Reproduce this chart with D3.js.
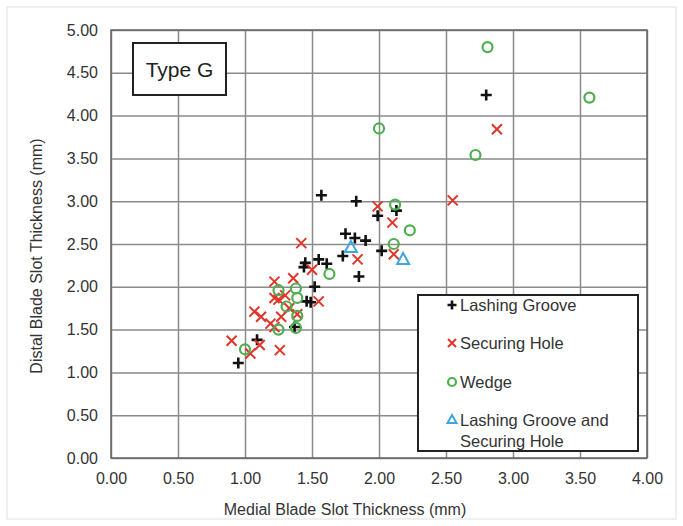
<!DOCTYPE html>
<html>
<head>
<meta charset="utf-8">
<script src="https://d3js.org/d3.v7.min.js"></script>
<style>
  body { margin: 0; background: #fff; }
  svg { display: block; font-family: "Liberation Sans", Arial, sans-serif; }
</style>
</head>
<body>
<svg id="chart" width="683" height="526"></svg>
<script>
// data: [medial, distal] in mm
var lashingGroove = [
  [0.95, 1.11], [1.09, 1.38], [1.37, 1.53], [1.46, 1.83], [1.49, 1.82],
  [1.52, 2.00], [1.44, 2.23], [1.45, 2.28], [1.55, 2.32], [1.61, 2.27],
  [1.73, 2.36], [1.75, 2.62], [1.82, 2.57], [1.90, 2.54], [2.02, 2.42],
  [1.85, 2.12], [1.57, 3.07], [1.83, 3.00], [1.99, 2.83], [2.13, 2.89],
  [2.80, 4.24]
]
var securingHole = [
  [0.90, 1.37], [1.04, 1.22], [1.11, 1.32], [1.26, 1.26], [1.07, 1.71],
  [1.12, 1.65], [1.19, 1.57], [1.22, 1.53], [1.22, 1.87], [1.22, 2.06],
  [1.25, 1.85], [1.27, 1.65], [1.30, 1.90], [1.33, 1.75], [1.36, 2.10],
  [1.39, 1.68], [1.55, 1.83], [1.50, 2.20], [1.42, 2.51], [1.84, 2.32],
  [1.99, 2.94], [2.10, 2.75], [2.11, 2.38], [2.55, 3.01], [2.88, 3.84]
]
var wedge = [
  [1.00, 1.27], [1.25, 1.50], [1.38, 1.52], [1.39, 1.66], [1.31, 1.77],
  [1.39, 1.87], [1.25, 1.96], [1.38, 1.98], [1.63, 2.15], [2.11, 2.50],
  [2.23, 2.66], [2.12, 2.96], [2.00, 3.85], [2.72, 3.54], [2.81, 4.80],
  [3.57, 4.21]
]
var bothTypes = [
  [1.79, 2.46], [2.18, 2.32]
]
var xTicks = [0, 0.5, 1, 1.5, 2, 2.5, 3, 3.5, 4]
var yTicks = [0, 0.5, 1, 1.5, 2, 2.5, 3, 3.5, 4, 4.5, 5]

var series = [
  { name: 'Lashing Groove', values: lashingGroove, shape: 'plus', color: '#111' },
  { name: 'Securing Hole', values: securingHole, shape: 'cross', color: '#e3342a' },
  { name: 'Wedge', values: wedge, shape: 'circle', color: '#4fae4f' },
  { name: 'Lashing Groove and|Securing Hole', values: bothTypes, shape: 'triangle', color: '#3ea6df' }
]

var svg = d3.select('#chart')
var plotLeft = 111, plotRight = 647, plotTop = 30, plotBottom = 458
var font = '"Liberation Sans", Arial, sans-serif'

var x = d3.scaleLinear().domain([0, 4]).range([plotLeft, plotRight])
var y = d3.scaleLinear().domain([0, 5]).range([plotBottom, plotTop])

// faint outer frame
svg.append('rect')
  .attr('x', 7).attr('y', 7).attr('width', 669).attr('height', 512)
  .attr('fill', 'none').attr('stroke', '#e2e2e2').attr('stroke-width', 1)

// grid
svg.append('g')
  .attr('transform', 'translate(0,' + plotBottom + ')')
  .call(d3.axisBottom(x).tickValues(xTicks).tickSize(-(plotBottom - plotTop)).tickFormat(d3.format('.2f')))
  .call(g => g.select('.domain').remove())
  .call(g => g.selectAll('line').attr('stroke', '#8a8a8a').attr('stroke-width', 1.5))
  .call(g => g.selectAll('text').attr('y', 12).attr('dy', '0.9em').attr('font-size', 16).attr('fill', '#333')
    .attr('font-family', font))

svg.append('g')
  .attr('transform', 'translate(' + plotLeft + ',0)')
  .call(d3.axisLeft(y).tickValues(yTicks).tickSize(-(plotRight - plotLeft)).tickFormat(d3.format('.2f')))
  .call(g => g.select('.domain').remove())
  .call(g => g.selectAll('line').attr('stroke', '#8a8a8a').attr('stroke-width', 1.5))
  .call(g => g.selectAll('text').attr('x', -13).attr('font-size', 16).attr('fill', '#333')
    .attr('font-family', font))

svg.append('rect')
  .attr('x', plotLeft).attr('y', plotTop).attr('width', plotRight - plotLeft).attr('height', plotBottom - plotTop)
  .attr('fill', 'none').attr('stroke', '#666').attr('stroke-width', 1.5)

// axis titles
svg.append('text')
  .attr('x', 345).attr('y', 515)
  .attr('text-anchor', 'middle').attr('font-size', 16).attr('fill', '#333')
  .text('Medial Blade Slot Thickness (mm)')

svg.append('text')
  .attr('transform', 'translate(42,256) rotate(-90)')
  .attr('text-anchor', 'middle').attr('font-size', 16).attr('fill', '#333')
  .text('Distal Blade Slot Thickness (mm)')

function drawMarker(g, shape, color, s) {
  if (shape == 'plus') {
    g.append('path').attr('d', 'M' + (-s) + ',0H' + s + 'M0,' + (-s) + 'V' + s)
      .attr('stroke', color).attr('stroke-width', 2.6).attr('fill', 'none')
  } else if (shape == 'cross') {
    g.append('path').attr('d', 'M' + (-s) + ',' + (-s) + 'L' + s + ',' + s + 'M' + (-s) + ',' + s + 'L' + s + ',' + (-s))
      .attr('stroke', color).attr('stroke-width', 2).attr('fill', 'none')
  } else if (shape == 'circle') {
    g.append('circle').attr('r', s).attr('stroke', color).attr('stroke-width', 2.2).attr('fill', 'none')
  } else if (shape == 'triangle') {
    g.append('path').attr('d', 'M0,' + (-s - 1) + 'L' + (s + 0.5) + ',' + (s - 1) + 'L' + (-s - 0.5) + ',' + (s - 1) + 'Z')
      .attr('stroke', color).attr('stroke-width', 2).attr('fill', 'none')
  }
}

var sizes = { plus: 5.5, cross: 5, circle: 5, triangle: 5.5 }

series.forEach(function(s) {
  svg.append('g').selectAll('g')
    .data(s.values)
    .join('g')
    .attr('transform', d => 'translate(' + x(d[0]) + ',' + y(d[1]) + ')')
    .each(function() { drawMarker(d3.select(this), s.shape, s.color, sizes[s.shape]) })
})

// Type G label
svg.append('rect')
  .attr('x', 133).attr('y', 43).attr('width', 93).attr('height', 52)
  .attr('fill', '#fff').attr('stroke', '#222').attr('stroke-width', 2)
svg.append('text')
  .attr('x', 179.5).attr('y', 77).attr('text-anchor', 'middle')
  .attr('font-size', 21).attr('fill', '#222').text('Type G')

// legend
var legend = svg.append('g')
legend.append('rect')
  .attr('x', 418).attr('y', 295).attr('width', 220).attr('height', 156)
  .attr('fill', '#fff').attr('stroke', '#222').attr('stroke-width', 2)

var rowY = [305, 343, 382, 420]
series.forEach(function(s, i) {
  var item = legend.append('g').attr('transform', 'translate(452,' + rowY[i] + ')')
  drawMarker(item, s.shape, s.color, s.shape == 'plus' ? 4.5 : 4)
  s.name.split('|').forEach(function(line, j) {
    item.append('text')
      .attr('x', 8).attr('y', 6 + j * 21)
      .attr('font-size', 16.5).attr('fill', '#333')
      .text(line)
  })
})
</script>
</body>
</html>
